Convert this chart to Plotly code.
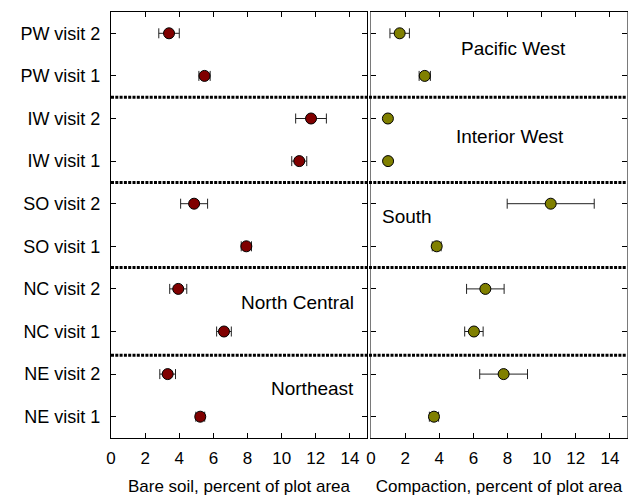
import plotly.graph_objects as go

# ---- data (bottom to top) ----
categories = ["NE visit 1", "NE visit 2", "NC visit 1", "NC visit 2",
              "SO visit 1", "SO visit 2", "IW visit 1", "IW visit 2",
              "PW visit 1", "PW visit 2"]
bare_soil = [5.23, 3.32, 6.62, 3.94, 7.93, 4.87, 11.03, 11.72, 5.48, 3.40]
bare_soil_err = [0.26, 0.46, 0.43, 0.50, 0.30, 0.79, 0.44, 0.90, 0.33, 0.60]
compaction = [3.69, 7.77, 6.03, 6.70, 3.85, 10.53, 1.00, 0.99, 3.15, 1.68]
compaction_err = [0.27, 1.40, 0.54, 1.10, 0.26, 2.55, 0.10, 0.10, 0.33, 0.57]
x_ticks = [0, 2, 4, 6, 8, 10, 12, 14]
region_names = ["Pacific West", "Interior West", "South", "North Central", "Northeast"]

FONT = "Liberation Sans, Arial, sans-serif"

fig = go.Figure()
fig.add_trace(go.Scatter(
    x=bare_soil, y=categories, mode="markers",
    marker=dict(size=11, color="#800000", line=dict(color="black", width=1)),
    error_x=dict(type="data", array=bare_soil_err, color="#222", thickness=1, width=5),
    xaxis="x", yaxis="y", showlegend=False))
fig.add_trace(go.Scatter(
    x=compaction, y=categories, mode="markers",
    marker=dict(size=11, color="#808000", line=dict(color="black", width=1)),
    error_x=dict(type="data", array=compaction_err, color="#222", thickness=1, width=5),
    xaxis="x2", yaxis="y2", showlegend=False))

axis_common = dict(range=[0, 15], tickvals=x_ticks, ticks="inside", ticklen=5,
                   showline=True, linecolor="black", linewidth=1, mirror="allticks",
                   showgrid=False, zeroline=False, tickcolor="black",
                   ticklabelstandoff=5,
                   tickfont=dict(family=FONT, size=17, color="black"))
yaxis_common = dict(type="category", categoryorder="array", categoryarray=categories,
                    range=[-0.5, 9.5], ticks="inside", ticklen=5, showline=True,
                    linewidth=1, mirror="allticks", showgrid=False,
                    zeroline=False, tickcolor="black",
                    tickfont=dict(family=FONT, size=18, color="black"))
title_font = dict(family=FONT, size=17, color="black")

fig.update_layout(
    width=629, height=496,
    margin=dict(l=111, r=2, t=12, b=58, autoexpand=False),
    paper_bgcolor="white", plot_bgcolor="white",
    xaxis=dict(domain=[0, 256 / 516], anchor="y", automargin=False,
               title=dict(text="Bare soil, percent of plot area",
                          font=title_font, standoff=15),
               **axis_common),
    xaxis2=dict(domain=[260 / 516, 1], anchor="y2", automargin=False,
                title=dict(text="Compaction, percent of plot area",
                           font=title_font, standoff=15),
                **axis_common),
    yaxis=dict(domain=[0, 1], anchor="x", ticklabelstandoff=6, automargin=False,
               linecolor="black", **yaxis_common),
    yaxis2=dict(domain=[0, 1], anchor="x2", showticklabels=False, automargin=False,
                linecolor="#7a7a7a", **yaxis_common),
)

# dashed separators spanning both panels
for yb in [1.44, 3.5, 5.5, 7.5]:
    fig.add_shape(type="line", xref="paper", x0=0, x1=1, yref="y", y0=yb, y1=yb,
                  line=dict(color="black", width=3, dash="3px,1.3px"))

lab_font = dict(family=FONT, size=19, color="black")
fig.add_annotation(text=region_names[0], x=8.34, y=8.65, xref="x2", yref="y2",
                   showarrow=False, font=lab_font)
fig.add_annotation(text=region_names[1], x=8.16, y=6.58, xref="x2", yref="y2",
                   showarrow=False, font=lab_font)
fig.add_annotation(text=region_names[2], x=0.55, y=4.69, xref="x2", yref="y2",
                   showarrow=False, xanchor="left", font=lab_font)
fig.add_annotation(text=region_names[3], x=10.9, y=2.69, xref="x", yref="y",
                   showarrow=False, font=lab_font)
fig.add_annotation(text=region_names[4], x=11.79, y=0.66, xref="x", yref="y",
                   showarrow=False, font=lab_font)

fig.write_html("out.html", config={"displayModeBar": False},
               post_script="document.body.style.margin='0px';")
